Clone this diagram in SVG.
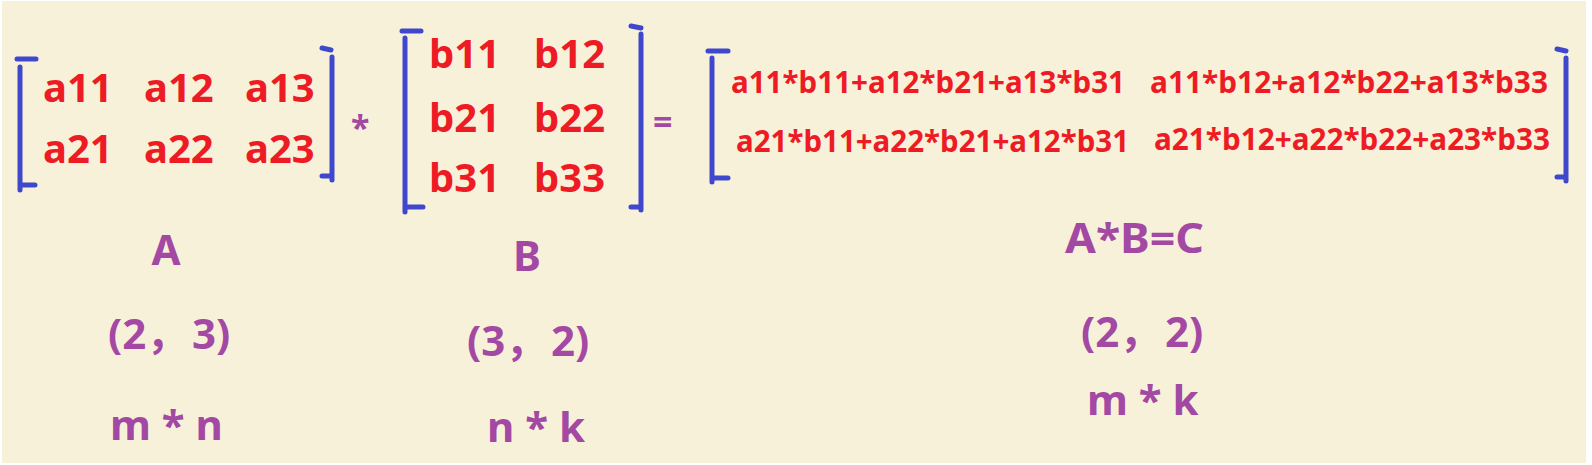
<svg xmlns="http://www.w3.org/2000/svg" width="1592" height="465" viewBox="0 0 1592 465">
<style>
.bg{fill:#F8F1DA}
.br{fill:none;stroke:#3F48CC;stroke-width:5;stroke-linecap:round;stroke-linejoin:round}
.el{font-family:"Noto Sans","Noto Sans CJK SC",sans-serif;font-weight:bold;fill:#ED1C24}
.m{font-size:40px}
.c{font-size:30px}
.lb{font-family:"Noto Sans","Noto Sans CJK SC",sans-serif;font-weight:bold;fill:#A349A4;font-size:42px}
.op{font-family:"Noto Sans",sans-serif;font-weight:bold;fill:#A349A4;font-size:34px}
</style>
<rect x="0" y="0" width="1592" height="465" fill="#FFFFFF"/>
<rect class="bg" x="2" y="1" width="1584" height="462"/>
<g id="matrixA">
<path class="br" d="M17,59 H36 M20,67 V190 M20,185 H35"/>
<path class="br" d="M322,48 L331,50 M332,57 V180 M322,176 H332"/>
<text class="el m" x="43" y="102">a11</text>
<text class="el m" x="144" y="102">a12</text>
<text class="el m" x="245" y="102">a13</text>
<text class="el m" x="43" y="163">a21</text>
<text class="el m" x="144" y="163">a22</text>
<text class="el m" x="245" y="163">a23</text>
</g>
<g id="times">
<text class="op" x="351" y="140">*</text>
</g>
<g id="matrixB">
<path class="br" d="M402,31 H421 M405,38 V212 M405,207 H423"/>
<path class="br" d="M631,26 L641,28 M641,34 V210 M631,207 H641"/>
<text class="el m" x="429" y="68">b11</text>
<text class="el m" x="534" y="68">b12</text>
<text class="el m" x="429" y="132">b21</text>
<text class="el m" x="534" y="132">b22</text>
<text class="el m" x="429" y="192">b31</text>
<text class="el m" x="534" y="192">b33</text>
</g>
<g id="equals">
<text class="op" x="653" y="134">=</text>
</g>
<g id="matrixC">
<path class="br" d="M708,51 H728 M712,58 V182 M712,178 H728"/>
<path class="br" d="M1557,49 L1566,51 M1566,58 V181 M1557,177 H1566"/>
<text class="el c" x="731" y="93" textLength="394" lengthAdjust="spacingAndGlyphs">a11*b11+a12*b21+a13*b31</text>
<text class="el c" x="1150" y="93" textLength="398" lengthAdjust="spacingAndGlyphs">a11*b12+a12*b22+a13*b33</text>
<text class="el c" x="736" y="152" textLength="393" lengthAdjust="spacingAndGlyphs">a21*b11+a22*b21+a12*b31</text>
<text class="el c" x="1154" y="150" textLength="396" lengthAdjust="spacingAndGlyphs">a21*b12+a22*b22+a23*b33</text>
</g>
<g id="labelA">
<text class="lb" x="166" y="265" text-anchor="middle">A</text>
<text class="lb" y="349"><tspan x="108">(2，</tspan><tspan x="192">3)</tspan></text>
<text class="lb" x="110" y="440">m * n</text>
</g>
<g id="labelB">
<text class="lb" x="527" y="271" text-anchor="middle">B</text>
<text class="lb" y="356"><tspan x="467">(3，</tspan><tspan x="551">2)</tspan></text>
<text class="lb" x="487" y="442">n * k</text>
</g>
<g id="labelC">
<text class="lb" x="1065" y="253" textLength="139" lengthAdjust="spacingAndGlyphs">A*B=C</text>
<text class="lb" y="347"><tspan x="1081">(2，</tspan><tspan x="1165">2)</tspan></text>
<text class="lb" x="1087" y="415">m * k</text>
</g>
</svg>
